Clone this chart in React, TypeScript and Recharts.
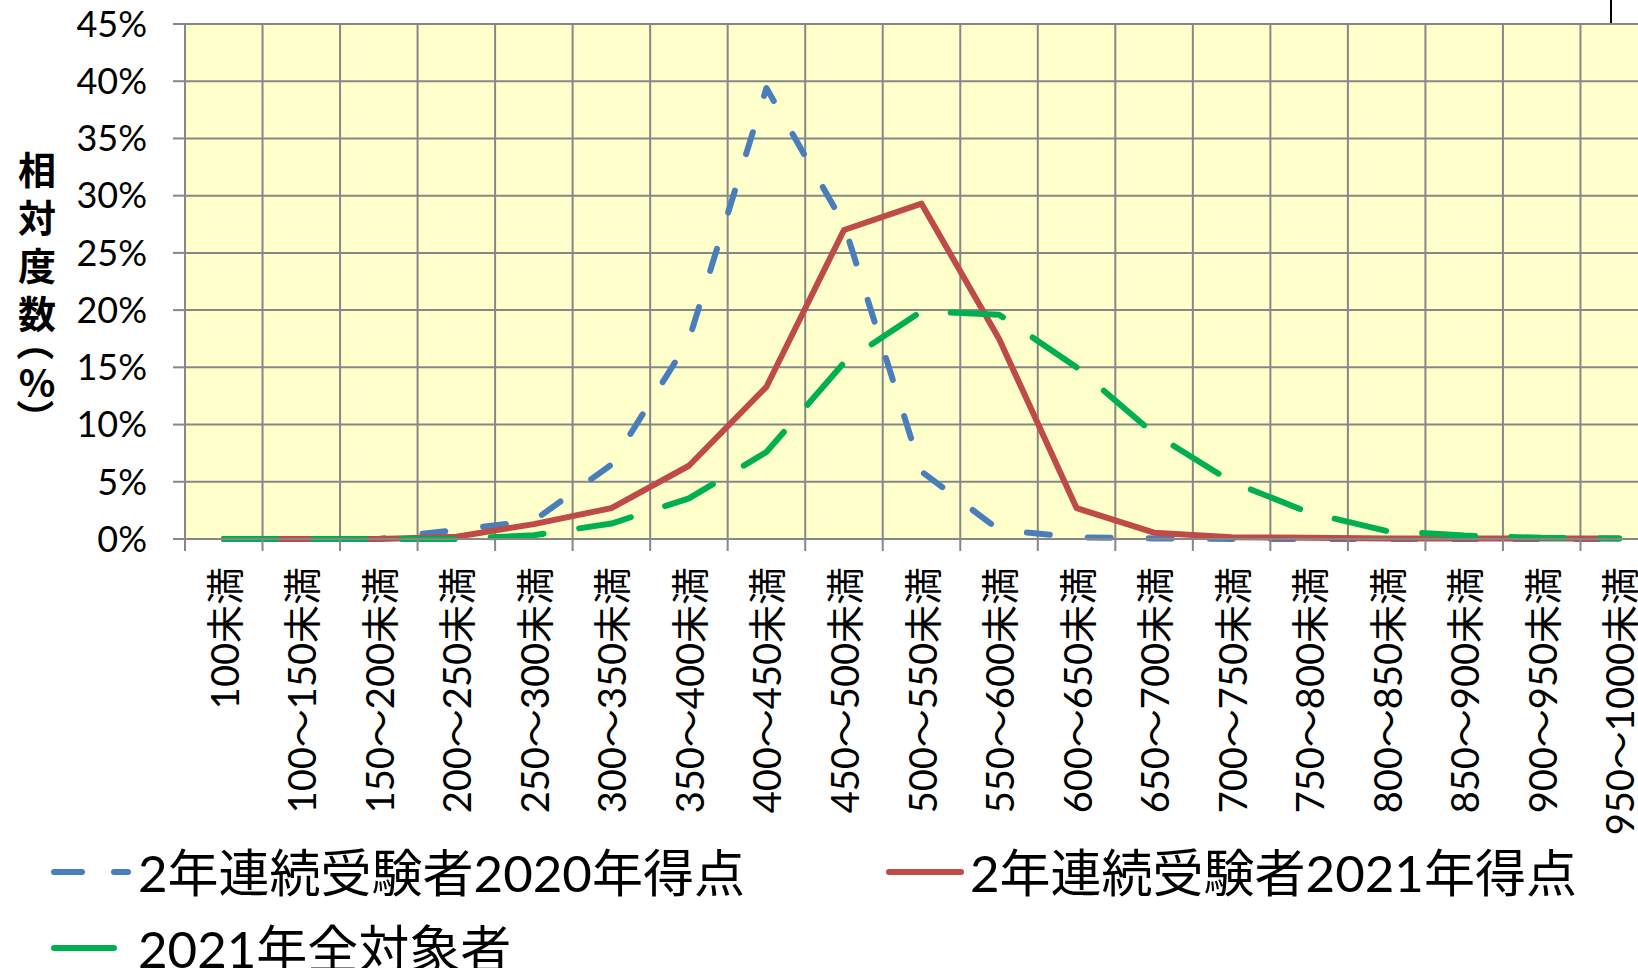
import { CartesianGrid, Legend, Line, LineChart, XAxis, YAxis } from "recharts";

const CATEGORIES = [
  "100未満",
  "100～150未満",
  "150～200未満",
  "200～250未満",
  "250～300未満",
  "300～350未満",
  "350～400未満",
  "400～450未満",
  "450～500未満",
  "500～550未満",
  "550～600未満",
  "600～650未満",
  "650～700未満",
  "700～750未満",
  "750～800未満",
  "800～850未満",
  "850～900未満",
  "900～950未満",
  "950～1000未満",
];

// 相対度数（%）
const SCORE_2020 = [0, 0, 0, 0.8, 1.6, 6.5, 17.4, 39.4, 27.5, 5.9, 0.8, 0.15, 0.05, 0, 0, 0, 0, 0, 0];
const SCORE_2021 = [0, 0, 0, 0.2, 1.3, 2.7, 6.4, 13.3, 27.0, 29.3, 17.5, 2.7, 0.55, 0.15, 0.1, 0.05, 0.05, 0.05, 0.05];
const ALL_2021 = [0, 0, 0, 0, 0.33, 1.35, 3.55, 7.6, 15.4, 19.9, 19.6, 15.0, 9.2, 5.0, 2.3, 0.7, 0.3, 0.1, 0.05];

const Y_TICKS = [0, 5, 10, 15, 20, 25, 30, 35, 40, 45];

const SERIES = [
  { key: "s2020", name: "2年連続受験者2020年得点", color: "#4A7EBB", dash: "23 38", offset: 45, legendDash: "28 32" },
  { key: "s2021", name: "2年連続受験者2021年得点", color: "#BE4B48", dash: undefined, offset: 0, legendDash: undefined },
  { key: "all2021", name: "2021年全対象者", color: "#00B050", dash: "53 36", offset: 0, legendDash: undefined },
];

const FONT = "Lato, 'Noto Sans CJK JP', sans-serif";
const GRID = "#878787";

const rows = CATEGORIES.map((cat, i) => ({
  x: i + 0.5,
  cat,
  s2020: SCORE_2020[i],
  s2021: SCORE_2021[i],
  all2021: ALL_2021[i],
}));

// boundaries get a tick mark + grid line, band centres get the rotated label
const boundaryTicks = CATEGORIES.map((_, i) => i).concat([CATEGORIES.length]);
const xTicks = CATEGORIES.flatMap((_, i) => [i, i + 0.5]).concat([CATEGORIES.length]);

function XTick(props: any) {
  const { x, y, payload } = props;
  const v = payload.value as number;
  if (Number.isInteger(v)) {
    return <line x1={x} y1={y} x2={x} y2={y + 12} stroke={GRID} strokeWidth={2} />;
  }
  const label = CATEGORIES[Math.floor(v)];
  const ty = y + 28;
  return (
    <text
      x={x}
      y={ty}
      transform={`rotate(-90, ${x}, ${ty})`}
      textAnchor="end"
      dominantBaseline="central"
      fontSize={38}
      fontFamily={FONT}
      fill="#000"
    >
      {label}
    </text>
  );
}

// stacked vertical title; the brackets lie on their side like in the original
const Y_TITLE = [
  { ch: "相", top: 149, turn: false },
  { ch: "対", top: 197, turn: false },
  { ch: "度", top: 245, turn: false },
  { ch: "数", top: 293, turn: false },
  { ch: "（", top: 323, turn: true },
  { ch: "%", top: 362, turn: false },
  { ch: "）", top: 399, turn: true },
];

function YTitle() {
  return (
    <div
      style={{
        position: "absolute",
        left: 18,
        top: 0,
        width: 38,
        height: 460,
        fontSize: 38,
        fontWeight: 700,
        fontFamily: "'Noto Sans CJK JP', sans-serif",
        color: "#000",
      }}
    >
      {Y_TITLE.map((c, i) => (
        <span
          key={i}
          style={{
            position: "absolute",
            left: 0,
            top: c.top,
            width: 38,
            height: 38,
            lineHeight: "38px",
            textAlign: "center",
            display: "block",
            transform: c.turn ? "rotate(90deg)" : undefined,
          }}
        >
          {c.ch}
        </span>
      ))}
    </div>
  );
}

function LegendContent() {
  const pos = [
    { left: 51, top: 872, len: 77, text: 138 },
    { left: 886, top: 872, len: 75, text: 970 },
    { left: 51, top: 948, len: 63, text: 138 },
  ];
  return (
    <div style={{ position: "relative", width: 1638, height: 968 }}>
      {SERIES.map((s, i) => {
        const p = pos[i];
        return (
          <div key={s.key}>
            <svg
              width={p.len + 10}
              height={12}
              style={{ position: "absolute", left: p.left - 3, top: p.top - 6 }}
            >
              <line
                x1={6}
                y1={6}
                x2={p.len + 3}
                y2={6}
                stroke={s.color}
                strokeWidth={6}
                strokeLinecap="round"
                strokeDasharray={s.legendDash}
              />
            </svg>
            <span
              style={{
                position: "absolute",
                left: p.text,
                top: p.top,
                transform: "translateY(-50%)",
                fontSize: 51,
                fontFamily: FONT,
                lineHeight: 1,
                whiteSpace: "nowrap",
                color: "#000",
              }}
            >
              {s.name}
            </span>
          </div>
        );
      })}
    </div>
  );
}

export default function App() {
  return (
    <div
      style={{
        position: "absolute",
        left: 0,
        top: 0,
        width: 1638,
        height: 968,
        overflow: "hidden",
        background: "#fff",
      }}
    >
      <LineChart width={1700} height={968} data={rows} margin={{ top: 24, right: 42, left: 0, bottom: 0 }}>
        <CartesianGrid
          fill="#FFFFCC"
          stroke={GRID}
          strokeWidth={2}
          verticalValues={boundaryTicks}
          horizontalValues={Y_TICKS}
        />
        <XAxis
          type="number"
          dataKey="x"
          domain={[0, CATEGORIES.length]}
          ticks={xTicks}
          interval={0}
          height={429}
          tick={<XTick />}
          tickLine={false}
          tickSize={0}
          tickMargin={0}
          axisLine={{ stroke: GRID, strokeWidth: 2 }}
        />
        <YAxis
          domain={[0, 45]}
          ticks={Y_TICKS}
          interval={0}
          width={185}
          tickFormatter={(v) => `${v}%`}
          tick={{ fill: "#000", fontSize: 36, fontFamily: FONT }}
          tickSize={12}
          tickMargin={26}
          tickLine={{ stroke: GRID, strokeWidth: 2 }}
          axisLine={{ stroke: GRID, strokeWidth: 2 }}
        />
        <Legend
          layout="horizontal"
          verticalAlign="middle"
          content={<LegendContent />}
          wrapperStyle={{ position: "absolute", left: 0, top: 0, width: 1638, height: 968, pointerEvents: "none" }}
        />
        {SERIES.map((s) => (
          <Line
            key={s.key}
            type="linear"
            dataKey={s.key}
            name={s.name}
            stroke={s.color}
            strokeWidth={6}
            strokeDasharray={s.dash}
            strokeDashoffset={s.offset}
            strokeLinecap="round"
            strokeLinejoin="round"
            dot={false}
            activeDot={false}
            isAnimationActive={false}
          />
        ))}
      </LineChart>
      <YTitle />
      <div style={{ position: "absolute", left: 1610, top: 0, width: 2, height: 23, background: "#000" }} />
    </div>
  );
}
